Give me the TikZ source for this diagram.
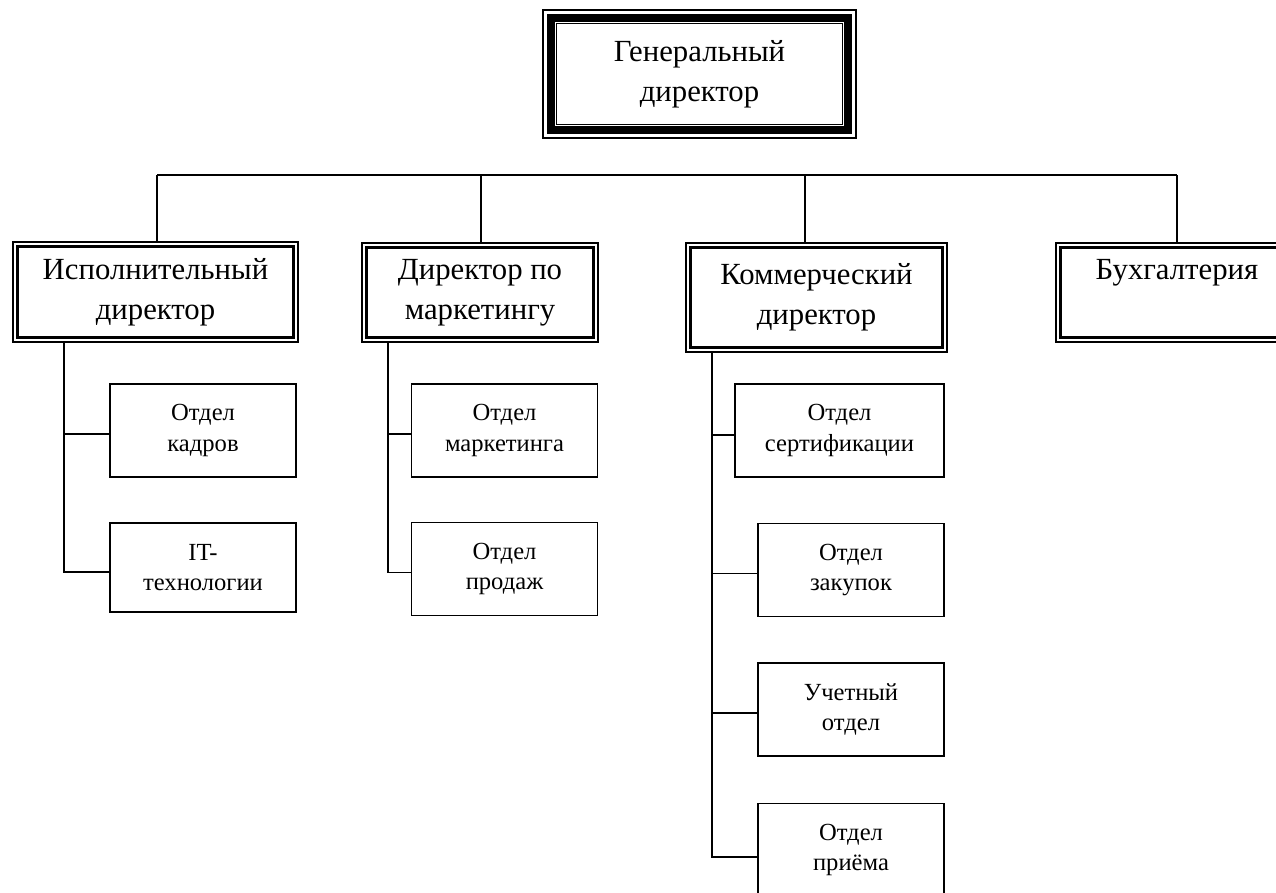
\documentclass[tikz,border=0pt]{standalone}
\usepackage{fontspec}
\setmainfont{Liberation Serif}
\usetikzlibrary{positioning}

\tikzset{
  chief/.style={draw, line width=0.9pt, align=center, inner sep=0pt,
    font=\fontsize{17.5}{22.5}\selectfont,
    path picture={
      \draw[line width=4.3pt] ([shift={(4.6pt,-4.6pt)}]path picture bounding box.north west)
        rectangle ([shift={(-4.6pt,4.6pt)}]path picture bounding box.south east);
      \draw[line width=0.6pt] ([shift={(7.6pt,-7.6pt)}]path picture bounding box.north west)
        rectangle ([shift={(-7.6pt,7.6pt)}]path picture bounding box.south east);
    }},
  head/.style={draw, line width=0.7pt, align=center, inner sep=0pt,
    font=\fontsize{17.5}{22.5}\selectfont,
    path picture={
      \draw[line width=1.6pt] ([shift={(2.6pt,-2.6pt)}]path picture bounding box.north west)
        rectangle ([shift={(-2.6pt,2.6pt)}]path picture bounding box.south east);
    }},
  dept/.style={draw, line width=0.7pt, align=center, inner sep=0pt,
    minimum width=3.72cm, minimum height=1.86cm,
    font=\fontsize{14}{17.5}\selectfont},
  link/.style={line width=0.7pt}
}

\begin{document}
\begin{tikzpicture}[x=0.02cm, y=-0.02cm]
\useasboundingbox (0,0) rectangle (1276,893);
\clip (0,0) rectangle (1276,893);

% Top
\node[chief, minimum width=6.26cm, minimum height=2.56cm] (gen) at (699.5,74) {Генеральный\\директор};

% Directors
\node[head, minimum width=5.70cm, minimum height=2.00cm] (isp) at (155.5,292) {Исполнительный\\директор};
\node[head, minimum width=4.72cm, minimum height=1.98cm] (mkt) at (480,292.5) {Директор по\\маркетингу};
\node[head, minimum width=5.22cm, minimum height=2.18cm] (kom) at (816.5,297.5) {Коммерческий\\директор};
\node[head, minimum width=4.84cm, minimum height=1.98cm] (buh) at (1177,292.5) {Бухгалтерия\\\phantom{д}};

% Departments
\node[dept] (kadry) at (203,430.5) {Отдел\\кадров};
\node[dept, minimum height=1.78cm] (it) at (203,567.5) {IT-\\технологии};
\node[dept] (mktotd) at (504.5,430.5) {Отдел\\маркетинга};
\node[dept] (prod) at (504.5,569) {Отдел\\продаж};
\node[dept, minimum width=4.18cm] (sert) at (839.5,430.5) {Отдел\\сертификации};
\node[dept] (zak) at (851,570) {Отдел\\закупок};
\node[dept] (uch) at (851,709.5) {Учетный\\отдел};
\node[dept] (pri) at (851,850) {Отдел\\приёма};

% Bus
\coordinate (bus1) at (157,175);
\coordinate (bus2) at (481,175);
\coordinate (bus3) at (805,175);
\coordinate (bus4) at (1177,175);
\draw[link] (bus1) -- (bus4);
\draw[link] (bus1) -- (isp.north -| bus1);
\draw[link] (bus2) -- (mkt.north -| bus2);
\draw[link] (bus3) -- (kom.north -| bus3);
\draw[link] (bus4) -- (buh.north -| bus4);

% Spines
\coordinate (sp1) at (64,0);
\coordinate (sp2) at (388,0);
\coordinate (sp3) at (712,0);

\draw[link] (isp.south -| sp1) |- ([yshift=-2.5pt]it.west);
\draw[link] ([yshift=-2pt]kadry.west -| sp1) -- ([yshift=-2pt]kadry.west);

\draw[link] (mkt.south -| sp2) |- ([yshift=-2pt]prod.west);
\draw[link] ([yshift=-2pt]mktotd.west -| sp2) -- ([yshift=-2pt]mktotd.west);

\draw[link] (kom.south -| sp3) |- ([yshift=-4pt]pri.west);
\draw[link] ([yshift=-2.5pt]sert.west -| sp3) -- ([yshift=-2.5pt]sert.west);
\draw[link] ([yshift=-2pt]zak.west -| sp3) -- ([yshift=-2pt]zak.west);
\draw[link] ([yshift=-2pt]uch.west -| sp3) -- ([yshift=-2pt]uch.west);

\end{tikzpicture}
\end{document}
